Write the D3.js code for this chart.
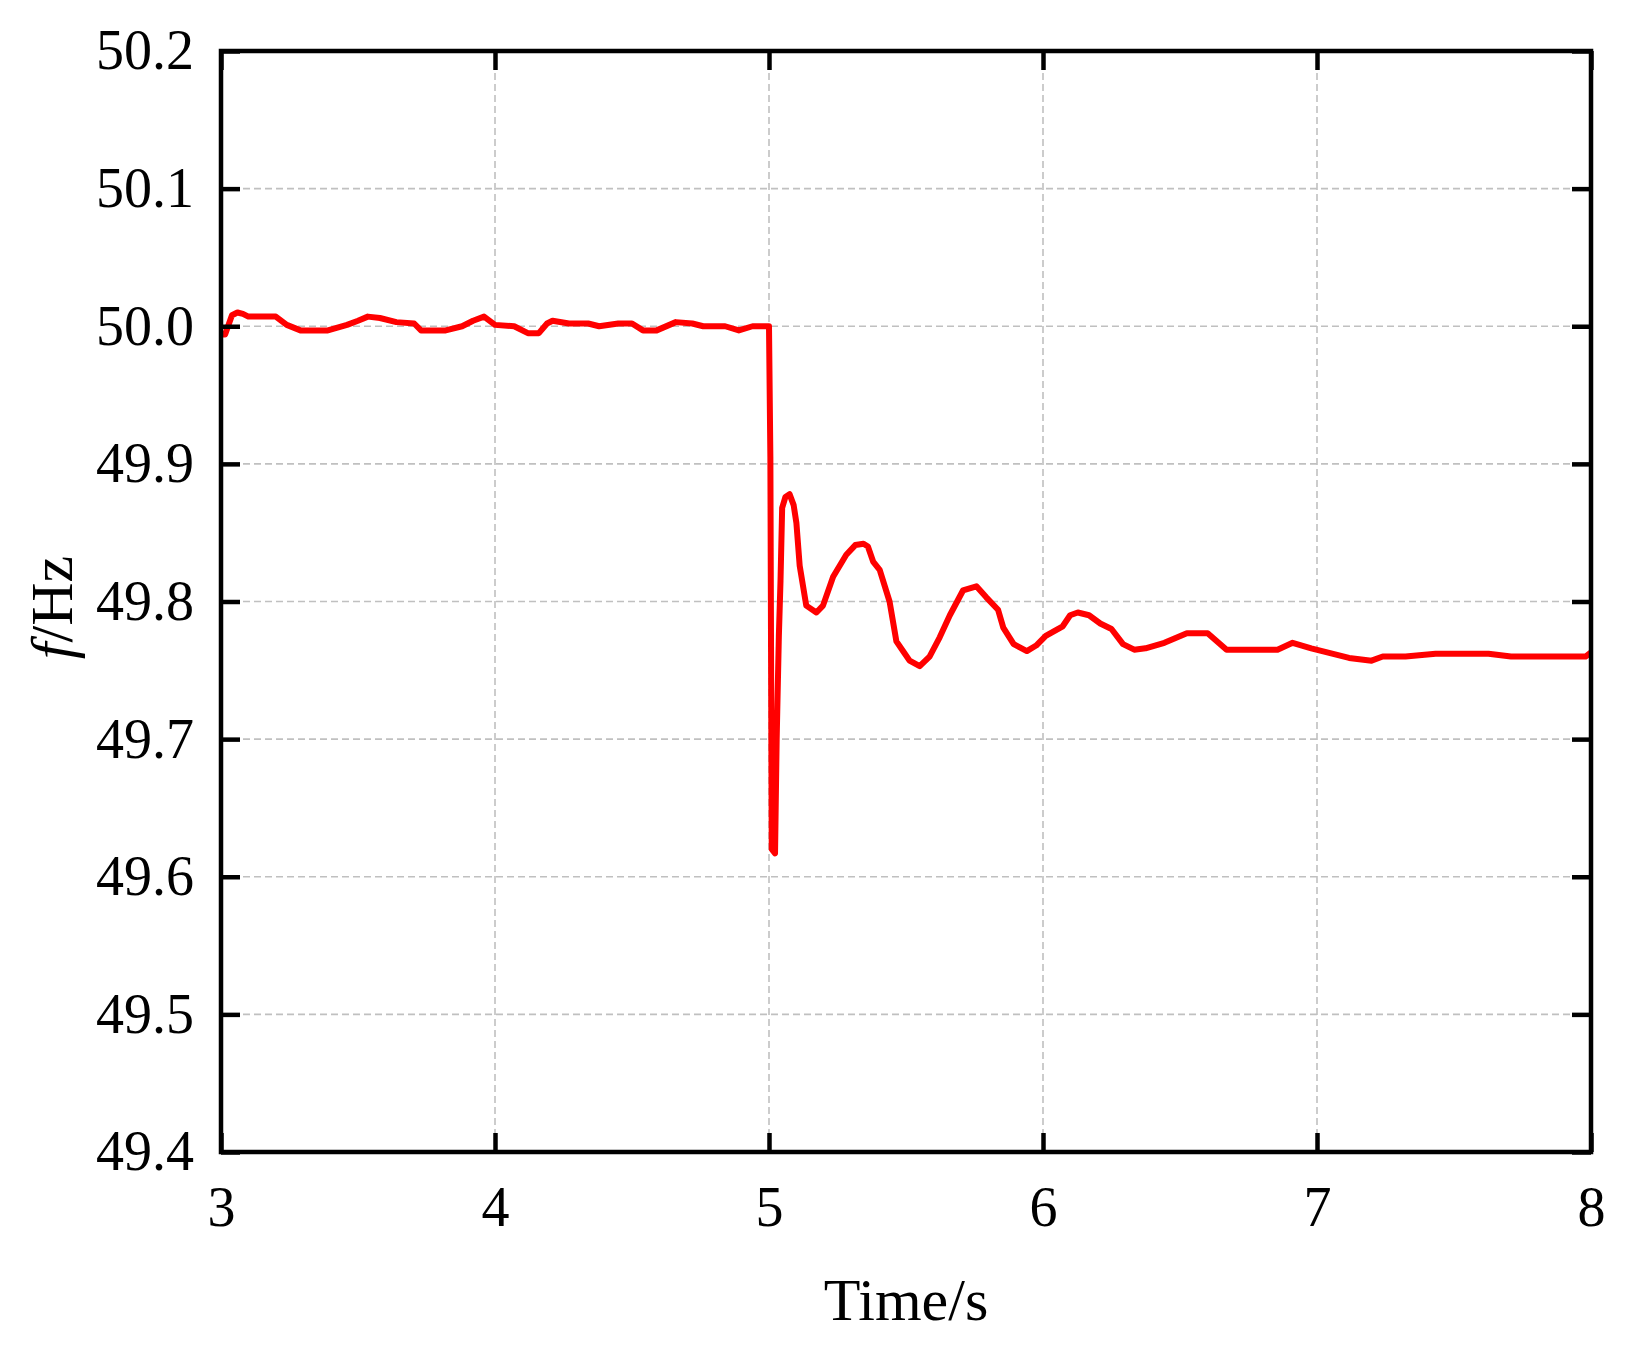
<!DOCTYPE html>
<html>
<head>
<meta charset="utf-8">
<script src="https://d3js.org/d3.v7.min.js"></script>
<style>
  body { margin: 0; background: white; }
  svg { display: block; font-family: "Liberation Serif", "Times New Roman", serif; }
</style>
</head>
<body>
<svg id="chart" width="1627" height="1356"></svg>

<script>
// time axis (s) and frequency (Hz)
var time = [3.000, 3.015, 3.040, 3.060, 3.080, 3.100, 3.200, 3.240, 3.290, 3.390,
  3.460, 3.500, 3.536, 3.580, 3.640, 3.705, 3.730, 3.820, 3.880, 3.920,
  3.960, 4.000, 4.070, 4.120, 4.160, 4.190, 4.210, 4.270, 4.340, 4.380,
  4.450, 4.500, 4.540, 4.590, 4.660, 4.720, 4.760, 4.840, 4.890, 4.940,
  5.000, 5.005, 5.010, 5.022, 5.028, 5.036, 5.042, 5.048, 5.060, 5.075,
  5.090, 5.100, 5.112, 5.136, 5.173, 5.197, 5.234, 5.282, 5.315, 5.345,
  5.361, 5.380, 5.404, 5.440, 5.465, 5.489, 5.513, 5.550, 5.586, 5.623,
  5.660, 5.708, 5.757, 5.793, 5.836, 5.855, 5.893, 5.941, 5.975, 6.010,
  6.072, 6.099, 6.127, 6.168, 6.209, 6.250, 6.292, 6.333, 6.374, 6.443,
  6.525, 6.601, 6.670, 6.856, 6.911, 6.979, 7.117, 7.199, 7.240, 7.323,
  7.433, 7.626, 7.708, 7.980, 8.000];
var freq = [49.994, 49.994, 50.008, 50.010, 50.009, 50.007, 50.007, 50.001, 49.997, 49.997,
  50.001, 50.004, 50.007, 50.006, 50.003, 50.002, 49.997, 49.997, 50.000, 50.004,
  50.007, 50.001, 50.000, 49.995, 49.995, 50.002, 50.004, 50.002, 50.002, 50.000,
  50.002, 50.002, 49.997, 49.997, 50.003, 50.002, 50.000, 50.000, 49.997, 50.000,
  50.000, 49.905, 49.620, 49.617, 49.700, 49.775, 49.815, 49.868, 49.876, 49.878,
  49.870, 49.857, 49.826, 49.797, 49.792, 49.797, 49.818, 49.834, 49.841, 49.842,
  49.840, 49.829, 49.823, 49.800, 49.771, 49.764, 49.757, 49.753, 49.760, 49.774,
  49.790, 49.808, 49.811, 49.803, 49.794, 49.781, 49.769, 49.764, 49.768, 49.775,
  49.782, 49.790, 49.792, 49.790, 49.784, 49.780, 49.769, 49.765, 49.766, 49.770,
  49.777, 49.777, 49.765, 49.765, 49.770, 49.766, 49.759, 49.757, 49.760, 49.760,
  49.762, 49.762, 49.760, 49.760, 49.763];

// tick values
var xTicks = [3, 4, 5, 6, 7, 8];
var yTicks = [49.4, 49.5, 49.6, 49.7, 49.8, 49.9, 50.0, 50.1, 50.2];

// plot box (window.top is taken, so own names)
var boxL = 221, boxR = 1591, boxT = 51, boxB = 1152;

var x = d3.scaleLinear().domain([3, 8]).range([boxL, boxR]);
var y = d3.scaleLinear().domain([49.4, 50.2]).range([boxB, boxT]);

var svg = d3.select('#chart');

// dashed grid
svg.append('g')
  .selectAll('line')
  .data(xTicks.slice(1, -1))
  .enter()
  .append('line')
  .attr('x1', function(d) { return x(d); })
  .attr('x2', function(d) { return x(d); })
  .attr('y1', boxT)
  .attr('y2', boxB)
  .attr('stroke', '#c0c0c0')
  .attr('stroke-width', 1.6)
  .attr('stroke-dasharray', '7 4');

svg.append('g')
  .selectAll('line')
  .data(yTicks.slice(1, -1))
  .enter()
  .append('line')
  .attr('x1', boxL)
  .attr('x2', boxR)
  .attr('y1', function(d) { return y(d); })
  .attr('y2', function(d) { return y(d); })
  .attr('stroke', '#c0c0c0')
  .attr('stroke-width', 1.6)
  .attr('stroke-dasharray', '7 4');

// frequency curve
var line = d3.line()
  .x(function(d) { return x(d[0]); })
  .y(function(d) { return y(d[1]); });

svg.append('path')
  .datum(d3.zip(time, freq))
  .attr('d', line)
  .attr('fill', 'none')
  .attr('stroke', '#ff0000')
  .attr('stroke-width', 6)
  .attr('stroke-linejoin', 'round');

// axes, ticks pointing inward on all four sides
var tickLen = 19;

var xBottom = svg.append('g')
  .attr('transform', 'translate(0,' + boxB + ')')
  .call(d3.axisBottom(x).tickValues(xTicks).tickSizeInner(-tickLen).tickSizeOuter(0).tickPadding(34).tickFormat(d3.format('d')));
var xTop = svg.append('g')
  .attr('transform', 'translate(0,' + boxT + ')')
  .call(d3.axisTop(x).tickValues(xTicks).tickSizeInner(-tickLen).tickSizeOuter(0).tickFormat(''));
var yLeft = svg.append('g')
  .attr('transform', 'translate(' + boxL + ',0)')
  .call(d3.axisLeft(y).tickValues(yTicks).tickSizeInner(-tickLen).tickSizeOuter(0).tickPadding(27).tickFormat(d3.format('.1f')));
var yRight = svg.append('g')
  .attr('transform', 'translate(' + boxR + ',0)')
  .call(d3.axisRight(y).tickValues(yTicks).tickSizeInner(-tickLen).tickSizeOuter(0).tickFormat(''));

[xBottom, xTop, yLeft, yRight].forEach(function(g) {
  g.select('.domain').remove();
  g.selectAll('.tick line').attr('stroke', 'black').attr('stroke-width', 4.5);
  g.selectAll('text')
    .attr('fill', 'black')
    .style('font-family', '"Liberation Serif", "Times New Roman", serif')
    .style('font-size', '56px');
});

// frame
svg.append('rect')
  .attr('x', boxL)
  .attr('y', boxT)
  .attr('width', boxR - boxL)
  .attr('height', boxB - boxT)
  .attr('fill', 'none')
  .attr('stroke', 'black')
  .attr('stroke-width', 4.5);

// axis titles
svg.append('text')
  .attr('x', (boxL + boxR) / 2)
  .attr('y', 1320)
  .attr('text-anchor', 'middle')
  .style('font-size', '60px')
  .text('Time/s');

var ylab = svg.append('text')
  .attr('transform', 'translate(72,' + ((boxT + boxB) / 2 + 6) + ') rotate(-90)')
  .attr('text-anchor', 'middle')
  .style('font-size', '60px');
ylab.append('tspan').style('font-style', 'italic').text('f');
ylab.append('tspan').text('/Hz');
</script>
</body>
</html>
